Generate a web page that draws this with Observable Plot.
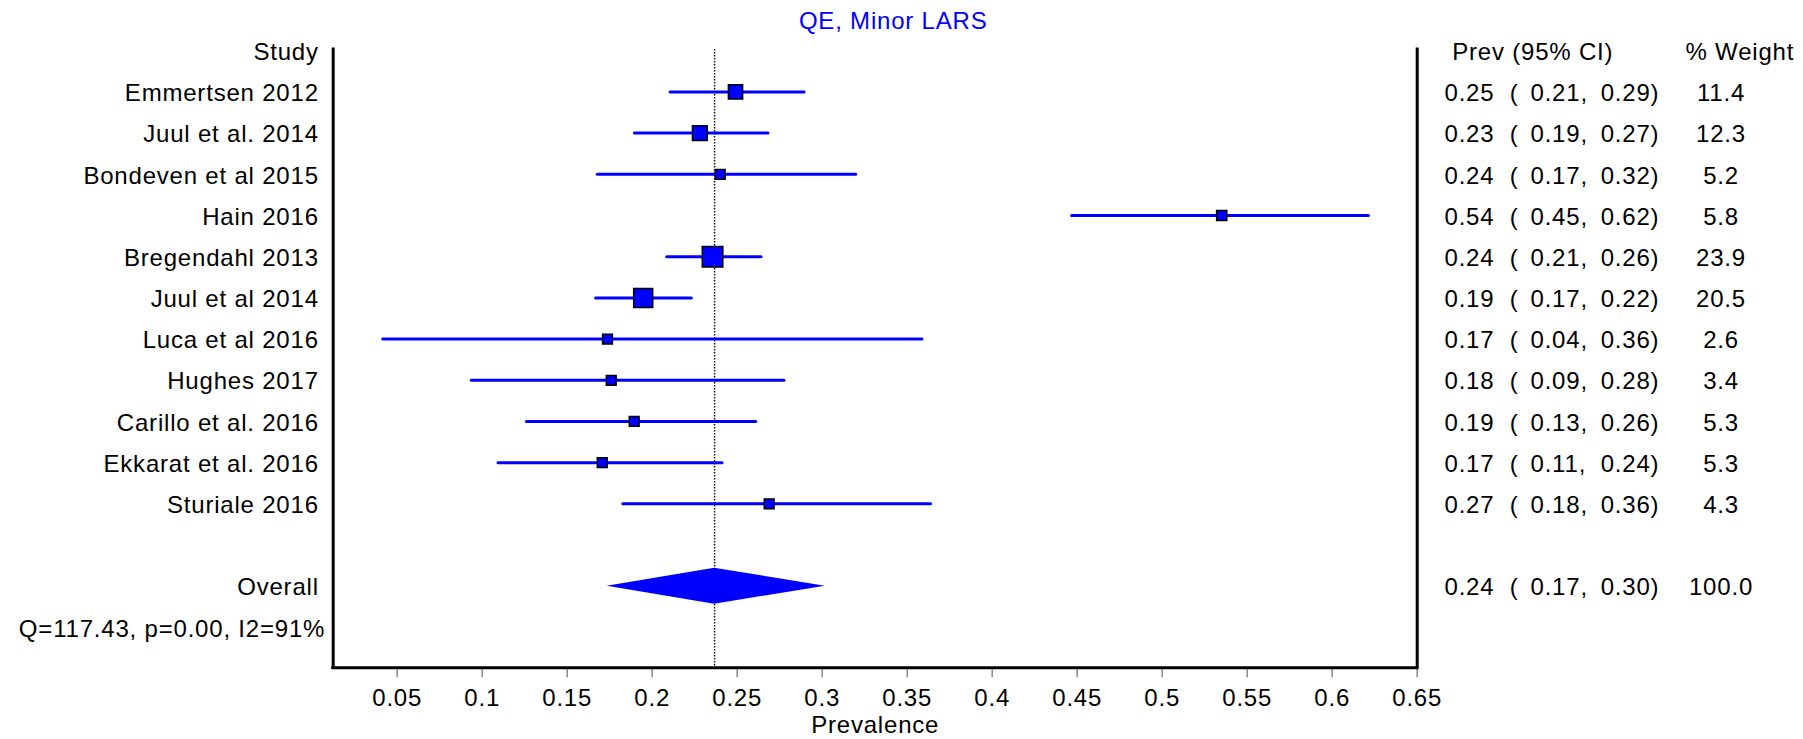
<!DOCTYPE html>
<html><head><meta charset="utf-8">
<script src="https://cdn.jsdelivr.net/npm/d3@7"></script>
<script src="https://cdn.jsdelivr.net/npm/@observablehq/plot@0.6"></script>
<style>
html,body{margin:0;padding:0;background:#fff;}
svg text{letter-spacing:0.8px;}
</style></head><body><div id="chart"></div>
<script>
const title = "QE, Minor LARS";
const studies = ["Emmertsen 2012", "Juul et al. 2014", "Bondeven et al 2015", "Hain 2016", "Bregendahl 2013", "Juul et al 2014", "Luca et al 2016", "Hughes 2017", "Carillo et al. 2016", "Ekkarat et al. 2016", "Sturiale 2016"];
const estPlot = [0.249, 0.228, 0.240, 0.535, 0.2355, 0.1947, 0.1737, 0.1759, 0.1894, 0.1706, 0.2688];
const loPlot  = [0.2108, 0.1898, 0.168, 0.447, 0.2088, 0.167, 0.0418, 0.0939, 0.1263, 0.1096, 0.183];
const hiPlot  = [0.2896, 0.2684, 0.320, 0.6216, 0.2643, 0.2233, 0.359, 0.2778, 0.2612, 0.2414, 0.364];
const estText = ["0.25", "0.23", "0.24", "0.54", "0.24", "0.19", "0.17", "0.18", "0.19", "0.17", "0.27"];
const loText  = ["0.21", "0.19", "0.17", "0.45", "0.21", "0.17", "0.04", "0.09", "0.13", "0.11", "0.18"];
const hiText  = ["0.29", "0.27", "0.32", "0.62", "0.26", "0.22", "0.36", "0.28", "0.26", "0.24", "0.36"];
const weights = [11.4, 12.3, 5.2, 5.8, 23.9, 20.5, 2.6, 3.4, 5.3, 5.3, 4.3];
const weightText = ["11.4", "12.3", "5.2", "5.8", "23.9", "20.5", "2.6", "3.4", "5.3", "5.3", "4.3"];
const overallValues = {est: 0.2367, lo: 0.1735, hi: 0.3018, estText: "0.24", loText: "0.17", hiText: "0.30", weightText: "100.0"};
const heterogeneity = "Q=117.43, p=0.00, I2=91%";
const tickValues = [0.05, 0.1, 0.15, 0.2, 0.25, 0.3, 0.35, 0.4, 0.45, 0.5, 0.55, 0.6, 0.65];
const tickLabels = ["0.05", "0.1", "0.15", "0.2", "0.25", "0.3", "0.35", "0.4", "0.45", "0.5", "0.55", "0.6", "0.65"];
const xLabel = "Prevalence";

const blue = "#0000ff";
const FS = 24;
const xDomain = [0.01235, 0.65];
const yDomain = [-0.03, 14.98];
const OVERALL_ROW = 13, Q_ROW = 14, HEADER_ROW = 0;

const data = studies.map((name, i) => ({
  name, row: i + 1, est: estPlot[i], lo: loPlot[i], hi: hiPlot[i],
  estText: estText[i], loText: loText[i], hiText: hiText[i], weight: weights[i], weightText: weightText[i]
}));
const overall = {name: "Overall", row: OVERALL_ROW, ...overallValues};
const tableRows = [...data, overall];
const leftLabels = [{t: "Study", row: HEADER_ROW}, ...tableRows.map(d => ({t: d.name, row: d.row}))];

const sideOf = w => Math.max(9.8, 4.2 * Math.sqrt(w));
const rOf = w => sideOf(w) / Math.sqrt(Math.PI);
const diamondHalf = 0.437;
const diamond = [
  {x: overall.lo, y1: OVERALL_ROW, y2: OVERALL_ROW},
  {x: overall.est, y1: OVERALL_ROW - diamondHalf, y2: OVERALL_ROW + diamondHalf},
  {x: overall.hi, y1: OVERALL_ROW, y2: OVERALL_ROW}
];

const textCommon = {fontSize: FS, lineAnchor: "middle", dy: 1.5, fill: "black"};

const chart = Plot.plot({
  width: 1803, height: 739,
  marginLeft: 332.7, marginRight: 386.3, marginTop: 49, marginBottom: 71.7,
  style: {fontFamily: "'Liberation Sans', Arial, sans-serif", fontSize: "24px", background: "white", color: "black"},
  x: {domain: xDomain},
  y: {domain: yDomain, reverse: true, axis: null},
  r: {type: "identity"},
  marks: [
    Plot.ruleX([overall.est], {stroke: "black", strokeWidth: 1.4, strokeDasharray: "1.5,1.5"}),
    Plot.ruleY(data, {y: "row", x1: "lo", x2: "hi", stroke: blue, strokeWidth: 3, strokeLinecap: "round"}),
    Plot.dot(data, {x: "est", y: "row", symbol: "square", r: d => rOf(d.weight), fill: blue, stroke: "black", strokeWidth: 1.5}),
    Plot.areaY(diamond, {x: "x", y1: "y1", y2: "y2", fill: blue}),
    Plot.axisX({ticks: tickValues, tickFormat: d => tickLabels[tickValues.indexOf(d)], anchor: "bottom",
      tickSize: 10, tickPadding: 11, fontSize: FS, stroke: "#888", strokeWidth: 1.5, fill: "black", label: null}),
    Plot.ruleX(xDomain, {stroke: "black", strokeWidth: 3, strokeLinecap: "square"}),
    Plot.ruleY([yDomain[1]], {stroke: "black", strokeWidth: 3, strokeLinecap: "square"}),
    // title & axis label
    Plot.text([title], {text: d => d, frameAnchor: "top", dx: 18, dy: -28, fontSize: FS, lineAnchor: "middle", fill: blue}),
    Plot.text([xLabel], {text: d => d, frameAnchor: "bottom", dy: 58, fontSize: FS, lineAnchor: "middle", fill: "black"}),
    // left column
    Plot.text(leftLabels, {y: "row", text: "t", frameAnchor: "left", textAnchor: "end", dx: -14.4, ...textCommon}),
    Plot.text([heterogeneity], {y: () => Q_ROW, text: d => d, frameAnchor: "left", textAnchor: "end", dx: -8, ...textCommon}),
    // right columns
    Plot.text(["Prev (95% CI)"], {y: () => HEADER_ROW, text: d => d, frameAnchor: "right", textAnchor: "start", dx: 35, ...textCommon}),
    Plot.text(["% Weight"], {y: () => HEADER_ROW, text: d => d, frameAnchor: "right", textAnchor: "start", dx: 268.3, ...textCommon}),
    Plot.text(tableRows, {y: "row", text: "estText", frameAnchor: "right", textAnchor: "start", dx: 27.3, ...textCommon}),
    Plot.text(tableRows, {y: "row", text: () => "(", frameAnchor: "right", textAnchor: "start", dx: 92.6, ...textCommon}),
    Plot.text(tableRows, {y: "row", text: d => d.loText + ",", frameAnchor: "right", textAnchor: "start", dx: 113.3, ...textCommon}),
    Plot.text(tableRows, {y: "row", text: d => d.hiText + ")", frameAnchor: "right", textAnchor: "start", dx: 183.5, ...textCommon}),
    Plot.text(tableRows, {y: "row", text: "weightText", frameAnchor: "right", textAnchor: "middle", dx: 303.8, ...textCommon})
  ]
});
document.getElementById("chart").appendChild(chart);
</script>
</body></html>
